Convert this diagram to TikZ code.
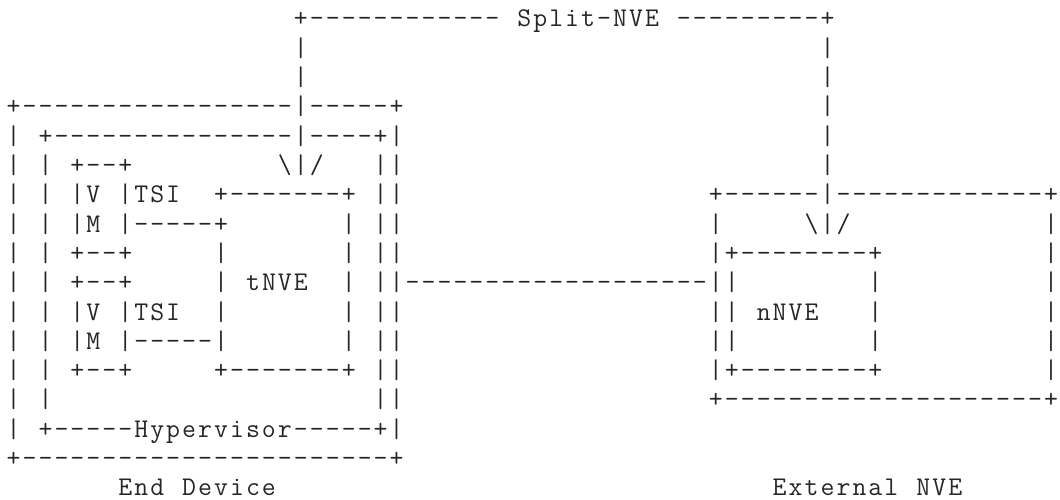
\documentclass[tikz,border=0pt]{standalone}
\newlength\cellw
\setlength\cellw{15.96pt}
\makeatletter
\newcommand\cellrow[1]{\cell@loop#1\relax}
\def\cell@loop#1{\ifx\relax#1\else\makebox[\cellw][c]{#1}\expandafter\cell@loop\fi}
\makeatother
\tikzset{asc/.style={anchor=base west, inner sep=0pt, outer sep=0pt, text=black!85,
  font=\ttfamily\fontsize{27pt}{29.3pt}\selectfont}}
\newcommand\asctxt[4]{\node[asc] (#1) at (#2,#3) {\cellrow{#4}};}
\newcommand\ascedge[3]{\node[asc,anchor=base] (#1) at (65.5,#2) {\makebox[6pt][c]{#3}};}
\begin{document}
\begin{tikzpicture}[x=15.96pt,y=-29.3pt]
\useasboundingbox (0pt,0pt) rectangle (1060pt,-500pt);
\begin{scope}[shift={(5.62pt,-27pt)}]
% row 0
\asctxt{r0a}{18}{0}{+------------}
\asctxt{r0b}{32}{0}{Split-NVE}
\asctxt{r0c}{42}{0}{---------+}
% rows 1-2
\asctxt{r1a}{18}{1}{|}\asctxt{r1b}{51}{1}{|}
\asctxt{r2a}{18}{2}{|}\asctxt{r2b}{51}{2}{|}
% row 3
\asctxt{r3a}{0}{3}{+-----------------|-----+}
\asctxt{r3b}{51}{3}{|}
% row 4
\asctxt{r4a}{0}{4}{|}
\asctxt{r4b}{2}{4}{+---------------|----+|}
\asctxt{r4c}{51}{4}{|}
% row 5
\asctxt{r5a}{0}{5}{|}\asctxt{r5b}{2}{5}{|}
\asctxt{r5c}{4}{5}{+--+}
\asctxt{r5d}{17}{5}{\textbackslash|/}
\asctxt{r5e}{23}{5}{||}
\asctxt{r5f}{51}{5}{|}
% row 6
\asctxt{r6a}{0}{6}{|}\asctxt{r6b}{2}{6}{|}
\asctxt{r6c}{4}{6}{|V}
\asctxt{r6d}{7}{6}{|TSI}
\asctxt{r6e}{13}{6}{+-------+}
\asctxt{r6f}{23}{6}{||}
\asctxt{r6g}{44}{6}{+------|-------------}
\ascedge{r6h}{6}{+}
% row 7
\asctxt{r7a}{0}{7}{|}\asctxt{r7b}{2}{7}{|}
\asctxt{r7c}{4}{7}{|M}
\asctxt{r7d}{7}{7}{|-----+}
\asctxt{r7e}{21}{7}{|}
\asctxt{r7f}{23}{7}{||}
\asctxt{r7g}{44}{7}{|}
\asctxt{r7h}{50}{7}{\textbackslash|/}
\ascedge{r7i}{7}{|}
% row 8
\asctxt{r8a}{0}{8}{|}\asctxt{r8b}{2}{8}{|}
\asctxt{r8c}{4}{8}{+--+}
\asctxt{r8d}{13}{8}{|}
\asctxt{r8e}{21}{8}{|}
\asctxt{r8f}{23}{8}{||}
\asctxt{r8g}{44}{8}{|+--------+}
\ascedge{r8h}{8}{|}
% row 9
\asctxt{r9a}{0}{9}{|}\asctxt{r9b}{2}{9}{|}
\asctxt{r9c}{4}{9}{+--+}
\asctxt{r9d}{13}{9}{|}
\asctxt{r9e}{15}{9}{tNVE}
\asctxt{r9f}{21}{9}{|}
\asctxt{r9g}{23}{9}{||-------------------||}
\asctxt{r9h}{54}{9}{|}
\ascedge{r9i}{9}{|}
% row 10
\asctxt{r10a}{0}{10}{|}\asctxt{r10b}{2}{10}{|}
\asctxt{r10c}{4}{10}{|V}
\asctxt{r10d}{7}{10}{|TSI}
\asctxt{r10e}{13}{10}{|}
\asctxt{r10f}{21}{10}{|}
\asctxt{r10g}{23}{10}{||}
\asctxt{r10h}{44}{10}{||}
\asctxt{r10i}{47}{10}{nNVE}
\asctxt{r10j}{54}{10}{|}
\ascedge{r10k}{10}{|}
% row 11
\asctxt{r11a}{0}{11}{|}\asctxt{r11b}{2}{11}{|}
\asctxt{r11c}{4}{11}{|M}
\asctxt{r11d}{7}{11}{|-----|}
\asctxt{r11e}{21}{11}{|}
\asctxt{r11f}{23}{11}{||}
\asctxt{r11g}{44}{11}{||}
\asctxt{r11h}{54}{11}{|}
\ascedge{r11i}{11}{|}
% row 12
\asctxt{r12a}{0}{12}{|}\asctxt{r12b}{2}{12}{|}
\asctxt{r12c}{4}{12}{+--+}
\asctxt{r12d}{13}{12}{+-------+}
\asctxt{r12e}{23}{12}{||}
\asctxt{r12f}{44}{12}{|+--------+}
\ascedge{r12g}{12}{|}
% row 13
\asctxt{r13a}{0}{13}{|}\asctxt{r13b}{2}{13}{|}
\asctxt{r13c}{23}{13}{||}
\asctxt{r13d}{44}{13}{+--------------------}
\ascedge{r13e}{13}{+}
% row 14
\asctxt{r14a}{0}{14}{|}
\asctxt{r14b}{2}{14}{+-----Hypervisor-----+|}
% row 15
\asctxt{r15a}{0}{15}{+-----------------------+}
% row 16
\asctxt{r16a}{7}{16}{End}
\asctxt{r16b}{11}{16}{Device}
\asctxt{r16c}{48}{16}{External}
\asctxt{r16d}{57}{16}{NVE}
\end{scope}
\end{tikzpicture}
\end{document}
